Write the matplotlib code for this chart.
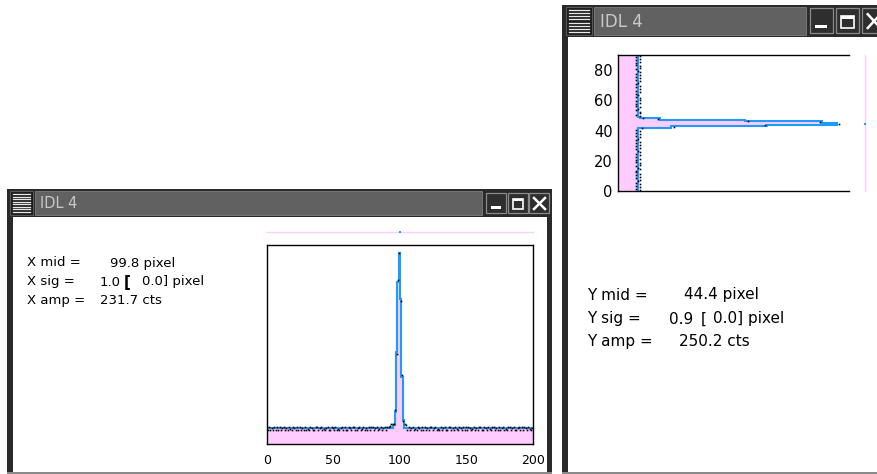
import matplotlib
matplotlib.use("Agg")
import matplotlib.pyplot as plt
from matplotlib.patches import Rectangle
import numpy as np

W, H = 878, 474

# horizontal cut through the star (left window)
x_ticks = [0, 50, 100, 150, 200]
x_base = 21.0
x_peak_bins = [95, 96, 97, 98, 99, 100, 101, 102]
x_peak_fit = [25, 43, 122, 216, 254, 193, 89, 32]
x_counts = [19, 23, 19, 21, 19, 23, 19, 22, 19, 23,
            19, 21, 23, 19, 21, 19, 23, 20, 19, 23,
            21, 19, 22, 19, 23, 19, 21, 19, 23, 19,
            20, 19, 23, 21, 19, 19, 23, 22, 19, 21,
            23, 19, 20, 19, 21, 23, 19, 19, 22, 21,
            19, 23, 19, 20, 19, 21, 23, 19, 22, 19,
            19, 23, 21, 19, 22, 23, 19, 19, 21, 23,
            19, 20, 23, 19, 21, 19, 23, 19, 22, 23,
            19, 21, 23, 19, 20, 23, 19, 21, 23, 19,
            22, 23, 24,
            26, 27, 26, 45, 120, 218, 255, 190, 92, 30, 26, 25,
            19, 23, 19, 21, 23, 19, 20, 19, 23, 21,
            19, 22, 19, 23, 19, 21, 19, 23, 22, 19,
            21, 23, 19, 20, 19, 23, 19, 21, 23, 19,
            19, 22, 23, 19, 21, 19, 23, 20, 19, 23,
            21, 19, 23, 19, 22, 19, 23, 21, 19, 20,
            23, 19, 21, 19, 23, 22, 19, 19, 23, 21,
            19, 23, 20, 19, 22, 23, 19, 21, 19, 23,
            19, 21, 23, 19, 20, 19, 23, 22, 19, 21,
            23, 19, 19, 21, 23, 19, 22, 19, 23, 21,
            19, 23, 20, 19, 21]
x_mid, x_sig, x_sig_err, x_amp = 99.8, 1.0, 0.0, 231.7

# vertical cut through the star (right window)
y_ticks = [0, 20, 40, 60, 80]
y_base = 25.0
y_peak_rows = [42, 43, 44, 45, 46, 47, 48]
y_peak_fit = [67, 187, 275, 256, 160, 53, 28]
y_counts = [28, 22, 27, 23, 28, 22, 25, 28, 22, 27,
            22, 28, 23, 22, 28, 25, 22, 27, 28, 22,
            23, 28, 22, 27, 22, 28, 25, 22, 28, 23,
            27, 22, 28, 22, 25, 28, 22, 27, 23, 28,
            22,
            30, 70, 185, 278, 254, 163, 50, 31,
            28, 22, 27, 28, 22, 25, 28, 22, 23, 28,
            22, 27, 28, 22, 25, 22, 28, 23, 27, 22,
            28, 22, 25, 28, 22, 27, 23, 28, 22, 28,
            25, 22, 27, 28, 22, 23, 28, 22, 27, 22,
            28]
y_mid, y_sig, y_sig_err, y_amp = 44.4, 0.9, 0.0, 250.2

PINK = "#ffccff"
BLUE = "#1e9bff"
FRAME = "#2a2a2a"

fig = plt.figure(figsize=(W / 100, H / 100), dpi=100)
bg = fig.add_axes([0, 0, 1, 1])
bg.set_xlim(0, W)
bg.set_ylim(H, 0)
bg.axis("off")


def rect(x0, y0, x1, y1, **kw):
    bg.add_patch(Rectangle((x0, y0), x1 - x0, y1 - y0, **kw))


def window(x0, x1, y0, y1, tb, bwl, bwr, icon, btns, by, title_xy, title_fs):
    rect(x0, y0, x1, y1, fc=FRAME, ec="none", zorder=1)
    rect(x0 + bwl, tb, x1 - bwr, y1 - 2.5, fc="white", ec="none", zorder=2)
    rect(x0, y1 - 2.5, x1, y1, fc="#8a8a8a", ec="none", zorder=2)
    # title strip
    rect(icon[2] + 2, y0 + 2, btns[0][0] - 4, tb - 2, fc="#616161", ec="#777777", lw=0.7, zorder=2)
    bg.text(title_xy[0], title_xy[1], "IDL 4", color="#c8c8c8", fontsize=title_fs,
            va="center", ha="left", zorder=3)
    # window menu icon
    ix0, iy0, ix1, iy1 = icon
    rect(ix0, iy0, ix1, iy1, fc="#1e1e1e", ec="#5a5a5a", lw=0.7, zorder=2)
    for yy in np.linspace(iy0 + 3, iy1 - 3, 8):
        bg.plot([ix0 + 3, ix1 - 3], [yy, yy], color="#e8e8e8", lw=0.9, zorder=3)
    # minimize / maximize / close
    b0, b1 = by
    bh = b1 - b0
    for k, (bx0, bx1) in enumerate(btns):
        rect(bx0, b0, bx1, b1, fc="#2e2e2e", ec="#8a8a8a", lw=0.9, zorder=2)
        bw = bx1 - bx0
        if k == 0:
            rect(bx0 + 0.23 * bw, b0 + 0.66 * bh, bx0 + 0.73 * bw, b0 + 0.8 * bh,
                 fc="white", ec="none", zorder=3)
        elif k == 1:
            rect(bx0 + 0.23 * bw, b0 + 0.3 * bh, bx0 + 0.77 * bw, b0 + 0.78 * bh,
                 fc="none", ec="white", lw=1.2, zorder=3)
            rect(bx0 + 0.23 * bw, b0 + 0.3 * bh, bx0 + 0.77 * bw, b0 + 0.42 * bh,
                 fc="white", ec="none", zorder=3)
        else:
            bg.plot([bx0 + 0.25 * bw, bx0 + 0.8 * bw], [b0 + 0.25 * bh, b0 + 0.8 * bh],
                    color="white", lw=1.8, zorder=3)
            bg.plot([bx0 + 0.25 * bw, bx0 + 0.8 * bw], [b0 + 0.8 * bh, b0 + 0.25 * bh],
                    color="white", lw=1.8, zorder=3)


window(7, 552, 189, 474, 217, 6, 5, (10, 191, 33, 215),
       [(486, 506), (508, 528), (529, 549)], (193, 213), (40, 203.5), 10.5)
window(562, 890, 5, 474, 37, 6, 0, (566, 7, 592, 35),
       [(810, 833), (836, 859), (862, 885)], (8, 33), (600, 21.5), 12)

# fit results text
fs_l = 9.5
bg.text(27, 263, "X mid =", fontsize=fs_l, va="center")
bg.text(110, 263, "%.1f pixel" % x_mid, fontsize=fs_l, va="center")
bg.text(27, 282, "X sig =", fontsize=fs_l, va="center")
bg.text(100, 282, "%.1f" % x_sig, fontsize=fs_l, va="center")
bg.text(124, 282, "[", fontsize=fs_l + 1.5, va="center", fontweight="bold")
bg.text(142, 282, "%.1f] pixel" % x_sig_err, fontsize=fs_l, va="center")
bg.text(27, 300.5, "X amp =", fontsize=fs_l, va="center")
bg.text(100, 300.5, "%.1f cts" % x_amp, fontsize=fs_l, va="center")

fs_r = 11
bg.text(587, 295, "Y mid =", fontsize=fs_r, va="center")
bg.text(684, 295, "%.1f pixel" % y_mid, fontsize=fs_r, va="center")
bg.text(587, 319, "Y sig =", fontsize=fs_r, va="center")
bg.text(669, 319, "%.1f" % y_sig, fontsize=fs_r, va="center")
bg.text(701, 319, "[", fontsize=fs_r, va="center")
bg.text(713, 319, "%.1f] pixel" % y_sig_err, fontsize=fs_r, va="center")
bg.text(587, 341.5, "Y amp =", fontsize=fs_r, va="center")
bg.text(679, 341.5, "%.1f cts" % y_amp, fontsize=fs_r, va="center")


def px_axes(x0, y0, x1, y1):
    ax = fig.add_axes([x0 / W, 1 - y1 / H, (x1 - x0) / W, (y1 - y0) / H])
    ax.set_facecolor("none")
    return ax


# ---- left: horizontal profile ----
xc = np.array(x_counts, dtype=float)
xf = np.full(len(xc), x_base)
xf[x_peak_bins] = x_peak_fit
xe = np.arange(len(xc) + 1)

ax1 = px_axes(267, 245, 533, 444)
ax1.stairs(xf, xe, fill=True, color=PINK, baseline=0, zorder=1)
ax1.stairs(xf, xe, color=BLUE, lw=1.5, baseline=None, zorder=2)
ax1.plot(xe[:-1] + 0.5, xc, "s", color="black", ms=1.2, mew=0, zorder=3)
ax1.set_xlim(0, 200)
ax1.set_ylim(0, 265)
ax1.set_xticks(x_ticks)
ax1.set_xticklabels([str(t) for t in x_ticks], fontsize=9)
ax1.set_yticks([])
ax1.tick_params(axis="x", length=0, pad=7)
for s in ax1.spines.values():
    s.set_linewidth(1.0)
tr = ax1.get_xaxis_transform()
ax1.plot([0, 200], [1.065, 1.065], color=PINK, lw=1.0, transform=tr, clip_on=False)
ax1.plot([x_mid], [1.065], "s", color=BLUE, ms=2, mew=0, transform=tr, clip_on=False)

# ---- right: vertical profile ----
yc = np.array(y_counts, dtype=float)
yf = np.full(len(yc), y_base)
yf[y_peak_rows] = y_peak_fit
ye = np.arange(len(yc) + 1)

ax2 = px_axes(618, 55, 849, 191)
ax2.stairs(yf, ye, orientation="horizontal", fill=True, color=PINK, baseline=0, zorder=1)
ax2.stairs(yf, ye, orientation="horizontal", color=BLUE, lw=1.5, baseline=None, zorder=2)
ax2.plot(yc, ye[:-1] + 0.5, "s", color="black", ms=1.2, mew=0, zorder=3)
ax2.set_xlim(0, 290)
ax2.set_ylim(0, 90)
ax2.set_yticks(y_ticks)
ax2.set_yticklabels([str(t) for t in y_ticks], fontsize=10.5)
ax2.set_xticks([])
ax2.tick_params(axis="y", length=0, pad=4)
ax2.spines["right"].set_visible(False)
for s in ax2.spines.values():
    s.set_linewidth(1.0)
tr2 = ax2.get_yaxis_transform()
ax2.plot([1.069, 1.069], [0, 90], color=PINK, lw=1.0, transform=tr2, clip_on=False)
ax2.plot([1.069], [y_mid], "s", color=BLUE, ms=2, mew=0, transform=tr2, clip_on=False)

fig.savefig("out.png", dpi=100)
